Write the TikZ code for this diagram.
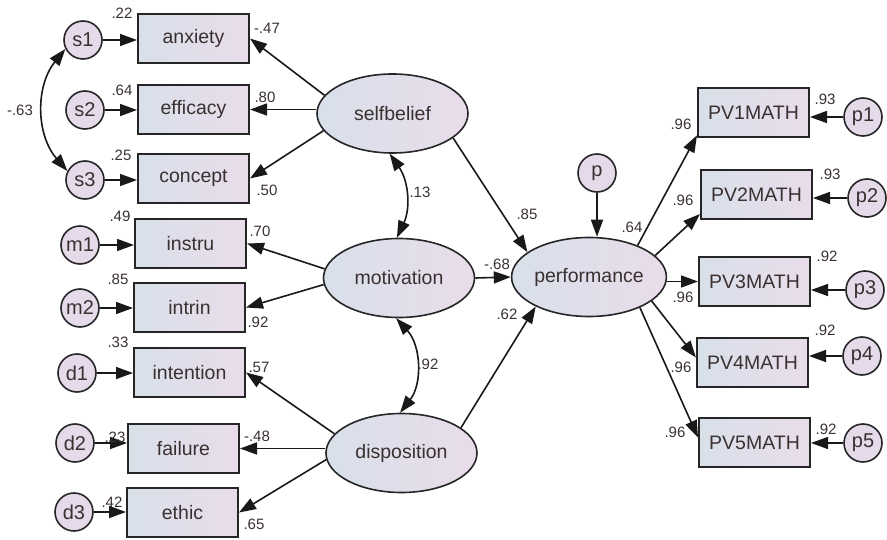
\documentclass[tikz,border=0pt]{standalone}
\usepackage{fontspec}
\setmainfont{Liberation Sans}
\usetikzlibrary{shapes.geometric,arrows.meta}
\definecolor{boxL}{HTML}{D8E0EA}
\definecolor{boxR}{HTML}{E9DCEA}
\definecolor{errfill}{HTML}{E4DAEA}
\definecolor{txt}{HTML}{3A3030}
\tikzset{
  obs/.style={draw=black!85, line width=2pt, left color=boxL, right color=boxR,
    minimum width=111pt, minimum height=49pt, inner sep=0pt, text=txt,
    font=\fontsize{19.5}{22}\selectfont},
  lat/.style={ellipse, draw=black!85, line width=1.6pt, left color=boxL, right color=boxR,
    minimum width=151pt, minimum height=79pt, inner sep=0pt, text=txt,
    font=\fontsize{19.5}{22}\selectfont},
  err/.style={circle, draw=black!85, line width=1.6pt, fill=errfill,
    minimum size=38pt, inner sep=0pt, text=txt, font=\fontsize{20}{22}\selectfont},
  num/.style={inner sep=0pt, text=txt, font=\fontsize{15}{17}\selectfont},
  arr/.style={line width=1.6pt, draw=black!90, -{Triangle[length=17pt,width=12pt]}},
  cov/.style={line width=1.6pt, draw=black!90, {Triangle[length=17pt,width=12pt]}-{Triangle[length=17pt,width=12pt]}}
}
\begin{document}
\begin{tikzpicture}[x=1pt,y=-1pt]
\useasboundingbox (0,0) rectangle (887,540);
% observed left
\node[obs] (anxiety) at (193.5,38.5) {anxiety};
\node[obs] (efficacy) at (193.5,109.5) {efficacy};
\node[obs] (concept) at (193.5,178.5) {concept};
\node[obs] (instru) at (190.5,243.5) {instru};
\node[obs] (intrin) at (189.5,307.5) {intrin};
\node[obs] (intention) at (189.5,372.5) {intention};
\node[obs] (failure) at (183.5,448.5) {failure};
\node[obs] (ethic) at (182.5,512.5) {ethic};
% errors left
\node[err] (s1) at (83,40) {s1};
\node[err] (s2) at (85,110) {s2};
\node[err] (s3) at (85,180) {s3};
\node[err] (m1) at (80,245) {m1};
\node[err] (m2) at (80,308) {m2};
\node[err] (d1) at (77,373) {d1};
\node[err] (d2) at (75,443) {d2};
\node[err] (d3) at (74,512) {d3};
% latent
\node[lat] (selfbelief) at (392.5,113.5) {selfbelief};
\node[lat] (motivation) at (399,278) {motivation};
\node[lat] (disposition) at (401.5,453) {disposition};
\node[lat] (performance) at (589,277) {performance};
\node[err] (p) at (597,173) {p};
% observed right
\node[obs] (PV1) at (753.5,112.5) {PV1MATH};
\node[obs] (PV2) at (756.5,194.5) {PV2MATH};
\node[obs] (PV3) at (754.5,281.5) {PV3MATH};
\node[obs] (PV4) at (752.5,362.5) {PV4MATH};
\node[obs] (PV5) at (754.5,442.5) {PV5MATH};
\node[err] (p1) at (863,117) {p1};
\node[err] (p2) at (867,198) {p2};
\node[err] (p3) at (865,290) {p3};
\node[err] (p4) at (862,356) {p4};
\node[err] (p5) at (863,443) {p5};
% error arrows
\foreach \e/\o in {s1/anxiety,s2/efficacy,s3/concept,m1/instru,m2/intrin,d1/intention,d2/failure,d3/ethic}
  \draw[arr] (\e) -- (\e -| \o.west);
\foreach \e/\o in {p1/PV1,p2/PV2,p3/PV3,p4/PV4,p5/PV5}
  \draw[arr] (\e) -- (\e -| \o.east);
% loadings
\draw[arr] (selfbelief.165) -- (anxiety.east);
\draw[arr] (efficacy.east -| selfbelief.west) -- (efficacy.east);
\draw[arr] (selfbelief.194) -- (concept.east);
\draw[arr] (motivation.173) -- (instru.east);
\draw[arr] (motivation.185) -- (intrin.east);
\draw[arr] (disposition.164) -- (intention.east);
\draw[arr] (failure.east -| disposition.west) -- (failure.east);
\draw[arr] (disposition.185) -- (ethic.east);
% structural
\draw[arr] (selfbelief.-22) -- (performance.158);
\draw[arr] (motivation.east) -- (performance.west);
\draw[arr] (disposition.23) -- (performance.209);
\draw[arr] (p) -- (p |- performance.north);
\draw[arr] (performance.33) -- (PV1.202);
\draw[arr] (performance.18) -- (PV2.199);
\draw[arr] (PV3.west -| performance.east) -- (PV3.west);
\draw[arr] (performance.-21.5) -- (PV4.175);
\draw[arr] (performance.-31) -- (PV5.175);
% covariances
\draw[cov] (s1.207) to[bend right=40] (s3.153);
\draw[cov] (selfbelief.266) to[bend left=30] (motivation.93);
\draw[cov] (motivation.266) to[bend left=40] (disposition.92);
% numbers
\node[num] (n1) at (122,13) {.22};
\node[num] (n2) at (267,28) {-.47};
\node[num] (n3) at (122,90) {.64};
\node[num] (n4) at (265,97) {.80};
\node[num] (n5) at (121,155) {.25};
\node[num] (n6) at (267,190) {.50};
\node[num] (n7) at (20,110) {-.63};
\node[num] (n8) at (120,216) {.49};
\node[num] (n9) at (260,231) {.70};
\node[num] (n10) at (118,279) {.85};
\node[num] (n11) at (258,322) {.92};
\node[num] (n12) at (118,342) {.33};
\node[num] (n13) at (259,367) {.57};
\node[num] (n14) at (115,437) {.23};
\node[num] (n15) at (257,436) {-.48};
\node[num] (n16) at (112,502) {.42};
\node[num] (n17) at (254,524) {.65};
\node[num] (n18) at (420,192) {.13};
\node[num] (n19) at (527,214) {.85};
\node[num] (n20) at (497,264) {-.68};
\node[num] (n21) at (507,314) {.62};
\node[num] (n22) at (428,364) {.92};
\node[num] (n23) at (632,227) {.64};
\node[num] (n24) at (681,124) {.96};
\node[num] (n25) at (825,99) {.93};
\node[num] (n26) at (683,200) {.96};
\node[num] (n27) at (830,174) {.93};
\node[num] (n28) at (827,256) {.92};
\node[num] (n29) at (683,297) {.96};
\node[num] (n30) at (825,330) {.92};
\node[num] (n31) at (681,367) {.96};
\node[num] (n32) at (826,429) {.92};
\node[num] (n33) at (675,432) {.96};
\end{tikzpicture}
\end{document}
